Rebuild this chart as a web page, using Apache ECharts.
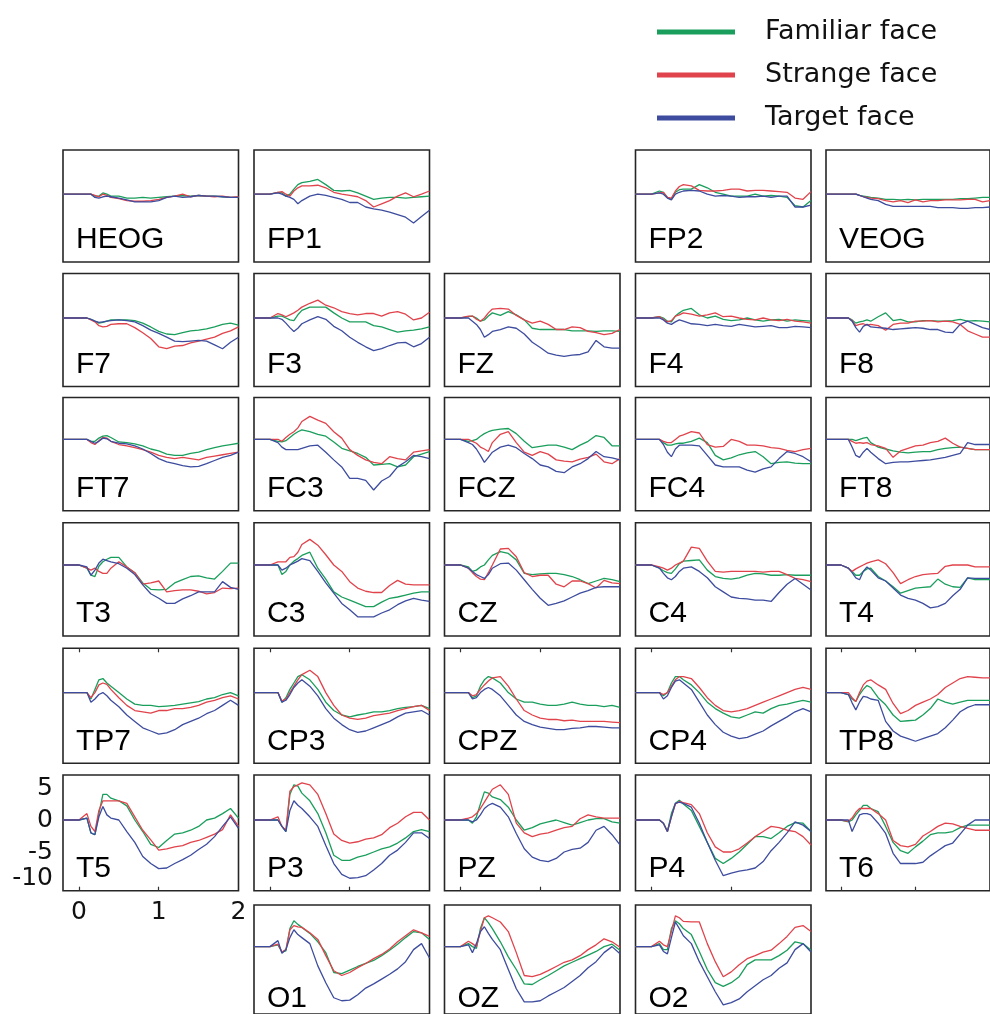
<!DOCTYPE html>
<html><head><meta charset="utf-8">
<script src="https://cdn.jsdelivr.net/npm/echarts@6/dist/echarts.min.js"></script>
<style>html,body{margin:0;padding:0;background:#fff}#c{width:990px;height:1014px}</style>
</head><body><div id="c"></div><script>
// ---------- DATA ----------
const times = [-0.2,-0.1,0,0.1,0.15,0.2,0.25,0.3,0.35,0.4,0.5,0.6,0.7,0.8,0.9,1.0,1.1,1.2,1.3,1.4,1.5,1.6,1.7,1.8,1.9,2.0];
const channels = ['HEOG','FP1','FP2','VEOG','F7','F3','FZ','F4','F8','FT7','FC3','FCZ','FC4','FT8','T3','C3','CZ','C4','T4','TP7','CP3','CPZ','CP4','TP8','T5','P3','PZ','P4','T6','O1','OZ','O2'];
const seriesNames = ['Familiar face','Strange face','Target face'];
const xTickValues = [0,1,2];
const yTickValues = [5,0,-5,-10];

const familiarFace = [
/*HEOG*/[0,0,0,0,0,-0.3,-0.3,0.2,0,-0.3,-0.3,-0.6,-0.6,-0.5,-0.6,-0.5,-0.4,-0.3,-0.2,-0.3,-0.2,-0.3,-0.3,-0.4,-0.5,-0.5],
/*FP1*/[0,0,0,0.3,0.2,-0.3,0,0.8,1.5,1.8,2.0,2.3,1.5,0.6,0.5,0.6,0.2,-0.3,-0.8,-0.6,-0.5,-0.5,-0.6,-0.5,-0.4,-0.3],
/*FP2*/[0,0,0,0.5,0.3,-0.5,-0.8,0.3,0.7,0.8,0.8,1.5,1.0,0.3,0,-0.3,-0.3,-0.3,0,-0.3,-0.2,-0.3,-0.5,-1.8,-2.0,-1.0],
/*VEOG*/[0,0,0,0,0,0,-0.2,-0.3,-0.4,-0.5,-0.6,-0.8,-0.8,-0.9,-0.8,-0.9,-0.8,-0.8,-0.8,-0.8,-0.8,-0.7,-0.7,-0.6,-0.5,-0.5],
/*F7*/[0,0,0,0,-0.2,-0.5,-0.8,-0.7,-0.5,-0.3,-0.3,-0.3,-0.4,-0.8,-1.4,-2.1,-2.5,-2.6,-2.3,-2.0,-1.9,-1.7,-1.4,-1.0,-0.8,-1.1],
/*F3*/[0,0,0,0.3,0.3,0,-0.3,-0.4,0.5,1.2,1.7,1.7,1.7,0.8,0,-0.6,-0.6,-0.6,-1.2,-1.4,-1.8,-2.2,-2.0,-1.9,-1.7,-1.4],
/*FZ*/[0,0,0,0.2,0.3,0,-0.5,-0.3,0.3,0.8,0.4,1.0,0.5,-0.3,-1.6,-1.8,-1.8,-1.8,-1.8,-2.0,-2.0,-2.0,-2.1,-2.0,-2.0,-2.1],
/*F4*/[0,0,0,0.2,0,-0.5,-0.6,0.3,0.8,1.2,1.5,0.5,0,0.3,-0.2,-0.4,-0.3,0,-0.3,-0.5,-0.3,-0.2,-0.5,-0.3,-0.4,-0.5],
/*F8*/[0,0,0,0,-0.3,-0.8,-0.6,-0.5,-0.3,-0.5,0.2,0.8,-0.4,-0.2,-0.6,-0.6,-0.4,-0.4,-0.5,-0.5,-0.4,-0.2,-0.5,-0.4,-0.5,-0.6],
/*FT7*/[0,0,0,0,-0.3,-0.3,0.2,0.5,0.6,0.3,-0.4,-0.5,-0.7,-1.0,-1.5,-1.8,-2.3,-2.5,-2.5,-2.2,-2.0,-1.6,-1.3,-1.0,-0.8,-0.6],
/*FC3*/[0,0,0,-0.3,-0.4,-0.2,0.3,0.8,1.2,1.5,1.2,0.8,0.5,-0.4,-1.4,-1.8,-2.2,-2.8,-4.0,-3.9,-3.8,-4.3,-4.0,-2.7,-2.3,-1.9],
/*FCZ*/[0,0,0,-0.3,-0.2,0,0.5,0.9,1.2,1.4,1.6,1.7,0.9,-0.3,-1.3,-1.1,-0.9,-0.9,-1.2,-1.6,-0.9,-0.3,0.6,0.3,-1.0,-1.0],
/*FC4*/[0,0,0,0,-0.5,-0.9,-0.9,-0.7,-0.6,-0.6,-0.3,0.2,-0.5,-2.5,-3.2,-2.9,-2.4,-2.1,-1.9,-2.7,-3.8,-3.6,-3.5,-3.7,-3.8,-3.8],
/*FT8*/[0,0,0,0,0,-0.2,0,0.2,0.3,-0.5,-1.2,-1.5,-1.8,-2.0,-2.1,-2.0,-1.9,-1.9,-1.6,-1.4,-1.3,-1.2,-1.4,-1.6,-1.6,-1.6],
/*T3*/[0,0,0,-0.5,-1.6,-1.8,-0.2,0.5,0.9,1.2,1.2,-0.3,-1.2,-2.8,-3.8,-3.9,-3.8,-2.8,-2.3,-1.8,-1.7,-2.0,-2.2,-1.0,0.3,0.3],
/*C3*/[0,0,0,0,-1.5,-1.0,0,0.6,1.0,1.5,2.0,-0.5,-2.2,-4.2,-5.0,-5.5,-6.0,-6.5,-6.5,-5.8,-5.2,-5.0,-4.7,-4.4,-4.2,-4.2],
/*CZ*/[0,0,0,-0.3,-1.0,-0.8,-0.3,0,0.8,1.5,2.1,1.8,0.8,-1.3,-1.5,-1.4,-1.3,-1.3,-1.5,-1.8,-2.3,-2.9,-2.5,-2.1,-2.3,-2.6],
/*C4*/[0,0,0,-0.5,-0.9,-1.2,-1.3,-0.6,0.2,0.6,0.7,0.8,-0.8,-1.8,-2.1,-2.2,-2.0,-1.6,-1.3,-1.4,-1.6,-1.6,-1.5,-1.6,-1.6,-1.6],
/*T4*/[0,0,0,-0.5,-1.0,-1.6,-1.6,-1.0,-0.6,-0.5,-1.8,-2.5,-3.4,-4.4,-4.0,-3.6,-3.5,-3.4,-2.2,-3.0,-3.4,-3.5,-2.0,-2.3,-2.3,-2.3],
/*TP7*/[0,0,0,0,-1.0,0.5,2.0,2.2,1.5,1.0,0,-1.0,-1.8,-2.0,-2.0,-2.2,-2.1,-2.0,-1.8,-1.6,-1.4,-1.0,-0.8,-0.3,0,-0.5],
/*CP3*/[0,0,0,0,-1.5,-0.8,0.5,1.5,2.5,2.8,2.0,0.5,-1.5,-2.8,-3.5,-3.8,-3.5,-3.3,-3.0,-3.0,-2.8,-2.5,-2.3,-2.2,-2.0,-2.5],
/*CPZ*/[0,0,0,0,-0.8,-0.5,1.0,2.0,2.5,2.3,1.5,0,-1.0,-1.5,-1.5,-1.8,-2.0,-2.0,-1.8,-1.5,-1.8,-2.0,-2.0,-2.2,-2.0,-2.3],
/*CP4*/[0,0,0,0,-0.5,0,1.5,2.5,2.5,2.0,1.2,0,-1.5,-2.5,-3.2,-3.8,-4.0,-3.5,-3.0,-3.2,-2.5,-2.0,-1.8,-1.5,-1.2,-1.5],
/*TP8*/[0,0,0,-0.3,-1.0,-1.4,-0.3,0.5,1.1,0.8,-0.8,-1.9,-3.5,-4.5,-4.4,-4.3,-3.5,-2.5,-1.0,-1.5,-1.8,-1.5,-1.2,-1.2,-1.2,-1.2],
/*T5*/[0,0,0,0.3,-2.0,-2.3,1.0,4.0,4.0,3.4,3.0,2.2,0,-1.8,-3.8,-4.3,-3.2,-2.2,-2.0,-1.6,-1.0,0,0.3,1.0,1.8,0.3],
/*P3*/[0,0,0,0,-1.0,-1.8,4.0,5.5,5.3,4.2,3.0,1.0,-2.0,-5.5,-6.3,-6.3,-5.8,-5.5,-5.0,-4.5,-4.2,-3.6,-2.8,-1.8,-1.5,-1.8],
/*PZ*/[0,0,0,0,-0.5,0.5,2.5,4.4,4.2,3.6,3.2,2.0,0,-1.6,-1.2,-0.6,-0.3,0,-0.4,-0.8,-0.4,0,0.2,0.2,-0.3,-0.5],
/*P4*/[0,0,0,0,-0.5,-1.8,1.0,2.6,3.1,2.5,1.5,-1.0,-3.5,-6.0,-6.8,-6.0,-5.0,-3.8,-2.6,-2.6,-2.9,-2.0,-1.0,-0.4,-0.5,-1.8],
/*T6*/[0,0,0,-0.3,0,0.8,1.5,2.3,2.3,1.8,1.3,-1.0,-3.5,-4.8,-5.2,-4.2,-3.3,-2.3,-2.0,-2.0,-1.8,-1.2,-0.8,-0.8,-0.8,-0.8],
/*O1*/[0,0,0,0.3,-0.9,-0.7,3.0,4.3,3.7,3.2,2.2,0.8,-1.0,-4.3,-4.5,-3.9,-3.3,-2.8,-2.3,-1.5,-0.6,0.4,1.5,2.5,2.3,1.2],
/*OZ*/[0,0,0,0.5,0,-0.3,3.0,4.8,4.0,3.0,0.8,-1.7,-3.8,-6.2,-6.3,-5.5,-4.8,-4.0,-3.2,-2.6,-2.0,-1.4,-0.8,0,0.4,-0.6],
/*O2*/[0,0,0,0.5,-0.5,-0.5,3.0,4.3,3.8,3.0,2.0,-0.8,-3.8,-6.0,-6.6,-6.0,-5.0,-3.0,-2.2,-2.2,-2.2,-1.5,-0.6,0.8,0.5,-0.6]
];

const strangeFace = [
/*HEOG*/[0,0,0,0,0,-0.2,-0.4,0,-0.2,-0.5,-0.7,-1.0,-1.1,-1.1,-1.0,-0.8,-0.5,-0.3,0,-0.4,-0.2,-0.3,-0.4,-0.3,-0.5,-0.4],
/*FP1*/[0,0,0,0.3,0.4,0,-0.3,0.5,1.0,1.3,1.3,1.4,1.0,0.3,0,-0.2,-0.4,-1.0,-2.0,-1.5,-1.0,-0.3,0.2,-0.4,0,0.5],
/*FP2*/[0,0,0,0.2,0.3,-0.5,-0.6,0.5,1.2,1.5,1.3,0.6,0.5,0.5,0.6,0.8,0.8,0.5,0.6,0.6,0.5,0.4,0.3,-0.6,-0.8,0.4],
/*VEOG*/[0,0,0,0,0,0,-0.2,-0.4,-0.5,-0.6,-0.7,-1.0,-1.2,-1.0,-1.3,-0.9,-1.2,-1.0,-1.0,-0.9,-0.9,-0.9,-0.8,-0.8,-1.2,-1.0],
/*F7*/[0,0,0,0,-0.3,-0.6,-1.2,-1.4,-1.3,-1.0,-0.9,-0.9,-1.5,-2.3,-3.2,-4.5,-4.8,-4.4,-4.3,-3.9,-3.6,-3.3,-3.0,-2.4,-2.0,-1.4],
/*F3*/[0,0,0,0.7,0.5,0.2,0.5,0.8,1.2,1.7,2.3,2.8,2.0,1.6,1.0,0.7,0.5,0.7,0.7,0.3,0.8,1.0,0.6,-0.3,0,0.9],
/*FZ*/[0,0,0,0.3,0.3,-0.2,-0.5,0,0.8,1.4,1.5,1.4,0.4,-0.3,-0.8,-0.5,-1.0,-1.8,-1.8,-1.4,-1.5,-2.1,-2.3,-2.6,-2.4,-1.8],
/*F4*/[0,0,0,0.2,-0.2,-0.6,-0.4,0.3,0.5,0.8,0.6,0.3,0.5,0.8,0.2,0.3,0,-0.2,-0.3,0,-0.3,-0.4,-0.2,-0.5,-0.6,-0.8],
/*F8*/[0,0,0,0,-0.4,-1.2,-1.0,-0.9,-1.1,-1.0,-1.2,-1.9,-1.0,-0.8,-0.8,-0.5,-0.5,-0.4,-0.6,-0.5,-0.6,-1.0,-2.0,-2.5,-3.0,-3.0],
/*FT7*/[0,0,0,0,-0.5,-0.8,-0.2,0.3,0.2,-0.3,-0.8,-1.0,-1.3,-1.6,-2.0,-2.5,-2.8,-3.0,-2.8,-3.0,-3.2,-2.8,-2.6,-2.4,-2.2,-2.0],
/*FC3*/[0,0,0,0,-0.3,0.3,0.8,1.2,1.8,2.8,3.6,3.0,2.5,1.2,0.2,-1.6,-2.5,-3.2,-3.6,-3.8,-2.7,-3.0,-3.2,-2.0,-1.8,-1.6],
/*FCZ*/[0,0,0,0,-0.3,-0.6,-1.2,-1.5,-1.9,-0.5,0.8,1.2,-0.5,-2.0,-2.5,-1.9,-2.3,-3.2,-3.4,-3.5,-3.1,-2.8,-2.3,-3.5,-3.8,-3.0],
/*FC4*/[0,0,0,0,-0.3,-0.5,-0.5,0,0.5,0.7,1.2,1.0,-0.8,-1.2,-1.1,0,-0.3,-0.9,-0.9,-1.0,-1.3,-1.4,-1.7,-1.9,-1.6,-1.4],
/*FT8*/[0,0,0,0,-0.3,-0.6,-0.5,-0.6,-0.5,-0.8,-1.0,-1.4,-2.8,-1.8,-1.4,-1.0,-0.9,-0.5,-0.3,0.2,-0.6,-1.2,-1.4,-1.6,-1.6,-1.6],
/*T3*/[0,0,0,-0.5,-0.8,-0.5,-1.0,-1.3,-1.3,-0.5,0.5,-0.3,-1.2,-3.0,-2.8,-2.5,-4.2,-4.0,-3.9,-3.9,-4.1,-4.5,-4.3,-3.6,-3.7,-3.6],
/*C3*/[0,0,0,0.5,0.5,0.5,1.2,1.3,2.0,3.2,4.0,3.1,1.6,0,-1.0,-2.6,-3.6,-4.1,-4.3,-4.3,-3.2,-2.4,-3.0,-3.1,-3.1,-3.1],
/*CZ*/[0,0,0,-0.5,-1.2,-1.8,-2.2,-2.3,-1.2,0,2.5,2.6,1.3,-1.2,-1.8,-1.6,-1.6,-3.0,-3.4,-2.5,-2.5,-2.9,-3.6,-2.4,-2.8,-2.9],
/*C4*/[0,0,0,-0.3,-0.5,-0.8,-0.5,0,0.3,0.6,2.8,2.6,0.6,-1.0,-1.1,-1.0,-1.0,-1.0,-1.0,-1.1,-1.0,-1.0,-1.5,-2.1,-2.3,-2.6],
/*T4*/[0,0,0,-0.5,-1.0,-0.6,-0.3,0,0.3,0.5,0.8,0.2,-1.2,-2.9,-2.3,-1.8,-1.5,-1.4,-1.3,-0.2,0,0,0,-0.3,-0.3,-0.3],
/*TP7*/[0,0,0,0,-0.8,0,1.2,1.5,1.3,0.5,-0.8,-2.0,-2.8,-3.0,-3.2,-2.8,-2.8,-2.5,-2.5,-2.3,-2.0,-1.5,-1.2,-0.8,-0.5,-1.0],
/*CP3*/[0,0,0,0,-1.3,-1.0,0,1.0,2.0,2.8,3.5,2.5,0,-2.0,-3.5,-4.0,-4.2,-4.0,-3.6,-3.4,-3.2,-2.8,-2.5,-2.2,-2.0,-2.8],
/*CPZ*/[0,0,0,0,-0.5,-0.3,0.5,1.2,1.8,2.3,2.5,1.0,-1.0,-2.8,-3.5,-4.0,-4.2,-4.2,-4.4,-4.3,-4.5,-4.5,-4.5,-4.5,-4.6,-4.7],
/*CP4*/[0,0,0,0,-0.3,0,1.0,2.0,2.5,2.5,2.2,0.8,-0.8,-2.0,-2.8,-3.0,-2.8,-2.5,-2.0,-1.5,-1.0,-0.5,0,0.5,0.8,0.5],
/*TP8*/[0,0,0,0,-0.8,-1.4,0,1.2,1.8,2.0,1.2,0.5,-1.7,-3.3,-2.8,-2.0,-1.5,-1.0,-0.3,0.8,1.5,2.2,2.5,2.4,2.3,2.3],
/*T5*/[0,0,0,1.0,-1.0,-1.8,1.5,3.0,3.0,3.0,3.0,2.6,0.5,-1.6,-3.1,-4.7,-4.5,-4.2,-4.0,-3.5,-3.2,-2.7,-2.2,-1.5,0.8,-1.0],
/*P3*/[0,0,0,0.5,-1.0,-1.6,4.5,5.2,5.5,5.8,5.5,4.0,1.0,-2.2,-3.2,-3.6,-3.4,-3.0,-2.8,-2.3,-1.2,-0.5,0.5,1.2,1.2,0],
/*PZ*/[0,0,0,0.3,0.5,1.0,1.8,2.8,3.8,4.8,5.5,4.0,-0.5,-2.0,-2.6,-2.2,-2.0,-1.6,-1.2,-1.0,0.2,0.8,0.5,0.3,0.3,0.3],
/*P4*/[0,0,0,0,-0.5,-1.8,0.5,2.5,2.9,2.7,2.4,1.0,-2.0,-4.2,-5.0,-5.0,-4.5,-3.6,-2.6,-1.8,-1.0,-1.2,-1.6,-1.8,-2.6,-3.9],
/*T6*/[0,0,0,-0.2,0.3,1.2,1.8,1.8,1.8,1.8,1.0,0,-3.2,-4.0,-4.2,-3.8,-2.5,-1.8,-1.0,-0.5,-0.6,-1.0,-1.3,-1.6,-1.6,-1.6],
/*O1*/[0,0,0,0.4,-0.9,-0.5,2.8,3.5,3.3,3.2,2.3,1.2,-1.5,-4.0,-4.8,-4.3,-3.5,-2.8,-2.0,-1.3,-0.4,0.8,1.8,2.8,2.3,1.7],
/*OZ*/[0,0,0,0.9,0.5,0,2.5,4.8,5.1,4.8,4.1,2.5,-1.0,-4.8,-5.0,-4.6,-4.0,-3.3,-2.6,-2.2,-1.5,-0.5,0.3,1.3,0.8,-0.1],
/*O2*/[0,0,0,0.9,0.3,0,2.5,5.1,4.8,4.2,4.1,4.1,0.5,-2.5,-5.0,-4.2,-3.0,-2.0,-1.5,-0.9,-0.6,0.5,1.7,3.2,3.5,2.5]
];

const targetFace = [
/*HEOG*/[0,0,0,0,0,-0.5,-0.6,-0.4,-0.3,-0.4,-0.6,-0.9,-1.2,-1.2,-1.2,-1.0,-0.5,-0.3,-0.5,-0.4,-0.2,-0.3,-0.3,-0.4,-0.5,-0.5],
/*FP1*/[0,0,0,0.2,0,-0.3,-0.5,-0.8,-1.5,-1.0,-0.3,0,-0.2,-0.5,-0.8,-1.3,-1.3,-2.0,-2.3,-2.5,-2.8,-3.2,-3.6,-4.5,-3.5,-2.5],
/*FP2*/[0,0,0,0.2,0,-0.6,-0.9,0,0.3,0.5,0.6,0.5,0,-0.3,-0.2,-0.3,-0.5,-0.4,-0.4,-0.3,-0.5,-0.3,-0.3,-2.0,-2.0,-1.7],
/*VEOG*/[0,0,0,0,0,0,-0.2,-0.4,-0.6,-0.8,-1.0,-1.6,-1.9,-1.9,-1.9,-1.9,-1.9,-1.9,-2.1,-2.1,-2.1,-2.2,-2.2,-2.1,-2.1,-2.0],
/*F7*/[0,0,0,0,-0.2,-0.5,-0.7,-0.6,-0.5,-0.4,-0.3,-0.4,-0.6,-1.2,-1.9,-2.4,-3.0,-3.6,-3.7,-3.6,-3.5,-3.6,-4.2,-4.8,-3.8,-3.0],
/*F3*/[0,0,0,0,-0.2,-0.8,-1.5,-2.1,-1.6,-0.9,-0.3,0.2,-0.2,-1.3,-2.0,-3.0,-3.8,-4.5,-5.1,-4.8,-4.3,-3.9,-3.8,-4.5,-4.0,-3.0],
/*FZ*/[0,0,0,0,-0.5,-1.0,-1.8,-3.0,-2.6,-2.1,-1.8,-1.4,-1.6,-2.5,-3.8,-4.6,-5.5,-5.8,-6.0,-5.8,-5.7,-5.3,-3.5,-4.5,-4.7,-4.7],
/*F4*/[0,0,0,0,-0.3,-0.8,-1.0,-0.6,-0.3,-0.5,-0.9,-1.0,-1.2,-1.0,-1.2,-1.3,-1.0,-1.2,-1.4,-1.3,-1.2,-1.5,-1.5,-1.3,-1.4,-1.5],
/*F8*/[0,0,0,0,-0.5,-1.5,-2.2,-1.3,-1.0,-1.4,-1.5,-1.6,-1.8,-1.7,-1.6,-1.5,-1.6,-1.8,-1.8,-2.2,-2.3,-1.0,-0.5,-1.0,-1.5,-1.8],
/*FT7*/[0,0,0,0,-0.3,-0.6,-0.3,0.2,0.1,-0.3,-0.6,-0.7,-1.0,-1.5,-2.2,-3.0,-3.5,-3.8,-4.1,-4.3,-4.2,-3.8,-3.3,-2.8,-2.5,-2.0],
/*FC3*/[0,0,0,-0.5,-1.2,-1.6,-1.6,-1.6,-1.6,-1.4,-1.0,-0.9,-2.0,-3.2,-4.3,-6.1,-6.1,-6.4,-7.9,-6.5,-5.8,-4.3,-3.5,-2.5,-2.7,-3.0],
/*FCZ*/[0,0,0,-0.5,-0.8,-1.5,-2.5,-3.6,-2.8,-2.0,-1.2,-0.9,-1.3,-2.2,-3.0,-4.0,-4.3,-5.0,-5.2,-4.3,-3.8,-3.0,-1.9,-2.7,-2.9,-3.2],
/*FC4*/[0,0,0,0,-0.8,-2.0,-2.7,-1.5,-0.9,-0.9,-0.9,-1.0,-2.5,-4.0,-4.3,-4.3,-4.3,-4.8,-5.1,-4.6,-4.3,-3.0,-1.9,-2.2,-2.7,-3.5],
/*FT8*/[0,0,0,0,-1.2,-2.5,-2.8,-2.0,-1.4,-2.0,-3.0,-3.8,-3.6,-3.5,-3.5,-3.4,-3.3,-3.2,-3.0,-2.8,-2.5,-2.2,-0.5,-0.8,-0.8,-0.8],
/*T3*/[0,0,0,-0.3,-1.6,-0.8,0.3,0.9,0.7,0.5,0.2,-0.5,-1.5,-3.1,-4.5,-5.2,-6.0,-6.0,-5.3,-4.8,-4.2,-4.2,-4.2,-2.6,-3.5,-3.8],
/*C3*/[0,0,0,0,-0.8,-0.5,0,0.3,0.6,1.0,0.7,-1.0,-2.8,-4.4,-6.0,-7.0,-8.1,-8.1,-8.1,-7.5,-7.0,-6.2,-5.6,-5.2,-5.5,-5.7],
/*CZ*/[0,0,0,-0.5,-1.0,-1.5,-1.8,-2.1,-1.5,-0.5,0.2,0.3,-0.8,-2.3,-3.8,-5.2,-6.3,-6.0,-5.6,-5.0,-4.4,-4.0,-3.5,-3.4,-3.4,-3.4],
/*C4*/[0,0,0,-0.5,-1.3,-2.0,-2.3,-1.8,-1.0,-0.5,-0.3,-1.0,-2.0,-3.4,-4.2,-5.0,-5.2,-5.3,-5.5,-5.5,-5.7,-4.3,-3.0,-2.1,-3.0,-3.9],
/*T4*/[0,0,0,-0.5,-1.2,-2.0,-2.3,-1.0,-0.3,-0.8,-2.0,-2.5,-3.6,-4.7,-5.2,-5.5,-6.0,-6.7,-6.5,-6.0,-4.8,-3.8,-2.0,-2.1,-2.1,-2.1],
/*TP7*/[0,0,0,0,-1.5,-1.0,-0.3,0,-0.5,-1.2,-2.2,-3.5,-4.5,-5.5,-6.0,-6.5,-6.3,-5.8,-5.0,-4.5,-4.0,-3.3,-2.8,-2.0,-1.2,-2.0],
/*CP3*/[0,0,0,0,-1.5,-1.2,-0.3,0.8,1.5,2.0,1.0,-0.5,-2.5,-4.0,-5.0,-5.8,-6.2,-6.0,-5.5,-5.0,-4.5,-3.8,-3.2,-3.0,-2.8,-3.5],
/*CPZ*/[0,0,0,0,-1.0,-0.8,0,0.5,0.8,0.5,-0.5,-2.0,-3.5,-4.5,-5.0,-5.4,-5.6,-5.8,-5.8,-5.6,-5.5,-5.3,-5.3,-5.4,-5.5,-5.5],
/*CP4*/[0,0,0,0,-1.0,-0.5,0.8,1.8,2.0,1.5,0.5,-1.5,-3.5,-5.0,-6.2,-6.8,-7.2,-7.0,-6.5,-6.0,-5.2,-4.5,-3.8,-3.0,-2.5,-3.0],
/*TP8*/[0,0,0,-0.3,-1.6,-2.7,-1.5,-0.6,-0.7,-1.0,-1.2,-4.5,-6.0,-6.8,-7.2,-7.6,-7.2,-6.8,-6.4,-5.5,-4.3,-3.0,-2.3,-1.9,-1.9,-1.9],
/*T5*/[0,0,0,0.3,-2.0,-2.3,0.5,2.1,0.8,0.3,0,-1.8,-3.5,-5.7,-6.8,-7.6,-7.5,-6.8,-6.2,-5.5,-4.6,-3.8,-2.6,-1.0,0.5,-1.3],
/*P3*/[0,0,0,0,-1.0,-1.8,1.5,3.0,2.3,1.8,0.5,-1.0,-4.0,-6.8,-8.5,-9.1,-9.0,-8.7,-7.8,-6.8,-5.5,-4.7,-3.5,-2.0,-2.0,-2.9],
/*PZ*/[0,0,0,0,-0.3,0,0.8,1.8,2.3,2.6,2.0,0.5,-2.1,-4.5,-5.8,-6.3,-6.5,-6.0,-5.0,-4.6,-4.4,-3.5,-1.6,-1.0,-2.3,-3.9],
/*P4*/[0,0,0,0,-0.5,-1.8,0.5,2.6,2.8,2.6,2.0,-0.5,-3.5,-6.3,-8.7,-8.3,-8.0,-7.8,-7.5,-6.5,-4.8,-3.5,-2.0,-0.3,-0.8,-1.8],
/*T6*/[0,0,0,0,-1.8,-0.5,0.8,1.0,1.0,0.8,-0.5,-2.1,-5.2,-6.8,-6.8,-6.8,-6.6,-5.6,-4.8,-4.0,-3.6,-2.2,-0.8,0,0,0],
/*O1*/[0,0,0,1.0,-1.1,-0.5,1.5,2.8,2.0,1.5,0.5,-3.2,-6.0,-8.5,-9.0,-8.9,-8.0,-6.9,-6.2,-5.4,-4.6,-3.7,-2.5,-0.5,0.5,-1.9],
/*OZ*/[0,0,0,0.3,-1.0,0.5,2.5,3.3,2.2,1.2,-0.5,-3.8,-7.0,-9.2,-9.2,-9.0,-8.2,-7.5,-6.8,-5.8,-4.8,-3.5,-2.5,-1.0,0,-1.2],
/*O2*/[0,0,0,0.3,-0.8,-1.2,1.5,4.1,3.0,1.8,0.5,-2.5,-5.0,-7.5,-9.7,-9.3,-8.7,-7.5,-6.5,-5.5,-4.8,-3.6,-2.7,-0.5,0.5,-0.9]
];

// ---------- LAYOUT ----------
const panelSlots = [[0,0],[0,1],[0,3],[0,4],
  [1,0],[1,1],[1,2],[1,3],[1,4],
  [2,0],[2,1],[2,2],[2,3],[2,4],
  [3,0],[3,1],[3,2],[3,3],[3,4],
  [4,0],[4,1],[4,2],[4,3],[4,4],
  [5,0],[5,1],[5,2],[5,3],[5,4],
  [6,1],[6,2],[6,3]];
const colLeft = [63, 254, 444.5, 635.5, 826];
const panelW = 175.5;
const rowTop = [150, 273.5, 397.5, 522.7, 648.3, 775, 905];
const rowBottom = [262, 386.5, 510.7, 636, 763.3, 890.7, 1021];
const rowBase = [194.2, 318, 439.4, 565, 692.6, 820, 949.3];
const pxPerUnit = 6.4;
const colors = ['#1a9e5c', '#e0434b', '#3d4c9e'];
const FONT = 'Liberation Sans, Arial, Helvetica, sans-serif';
const AXFONT = 'DejaVu Sans, sans-serif';

const grid = [], xAxis = [], yAxis = [], series = [], graphic = [];
const sets = [familiarFace, strangeFace, targetFace];

channels.forEach((ch, i) => {
  const [r, c] = panelSlots[i];
  const top = rowTop[r], bottom = rowBottom[r], base = rowBase[r];
  grid.push({left: colLeft[c], top: top, width: panelW, height: bottom - top,
    show: true, borderColor: '#262626', borderWidth: 1.6, backgroundColor: 'transparent'});
  const isT5 = ch === 'T5';
  xAxis.push({type: 'value', gridIndex: i, min: -0.2, max: 2,
    position: r === 4 ? 'top' : 'bottom',
    axisLine: {show: false, onZero: false}, splitLine: {show: false},
    axisTick: {show: r === 4 || r === 5, inside: true, length: 4, customValues: [0, 1],
      lineStyle: {color: '#333', width: 1.2}},
    axisLabel: {show: isT5, customValues: xTickValues, fontSize: 25, fontFamily: AXFONT,
      color: '#111', margin: 9}
  });
  yAxis.push({type: 'value', gridIndex: i,
    max: (base - top) / pxPerUnit, min: -(bottom - base) / pxPerUnit,
    axisLine: {show: false, onZero: false}, splitLine: {show: false}, axisTick: {show: false},
    axisLabel: {show: isT5, customValues: yTickValues, fontSize: 25, fontFamily: AXFONT,
      color: '#111', margin: 10,
      formatter: v => v === -10 ? '{lo|-10}' : String(v),
      rich: {lo: {fontSize: 25, fontFamily: AXFONT, color: '#111', padding: [0, 0, 12, 0]}}}
  });
  sets.forEach((arr, k) => {
    series.push({type: 'line', name: seriesNames[k], xAxisIndex: i, yAxisIndex: i,
      data: times.map((t, j) => [t, arr[i][j]]),
      showSymbol: false, symbol: 'none', silent: true,
      lineStyle: {color: colors[k], width: 1.3}, itemStyle: {color: colors[k]},
      z: 2 + k});
  });
  graphic.push({type: 'text', left: colLeft[c] + 13, top: bottom - 37,
    style: {text: ch, font: '30px ' + FONT, fill: '#000'}, z: 10});
});

const chart = echarts.init(document.getElementById('c'), null, {renderer: 'canvas'});
chart.setOption({
  animation: false,
  backgroundColor: '#fff',
  legend: {
    data: seriesNames, orient: 'vertical', left: 652, top: 12,
    icon: 'rect', itemWidth: 78, itemHeight: 5, itemGap: 13,
    textStyle: {fontSize: 27, fontFamily: AXFONT, color: '#111', lineHeight: 30, padding: [0, 0, 0, 25]},
    selectedMode: false
  },
  grid, xAxis, yAxis, series, graphic
});
</script></body></html>
